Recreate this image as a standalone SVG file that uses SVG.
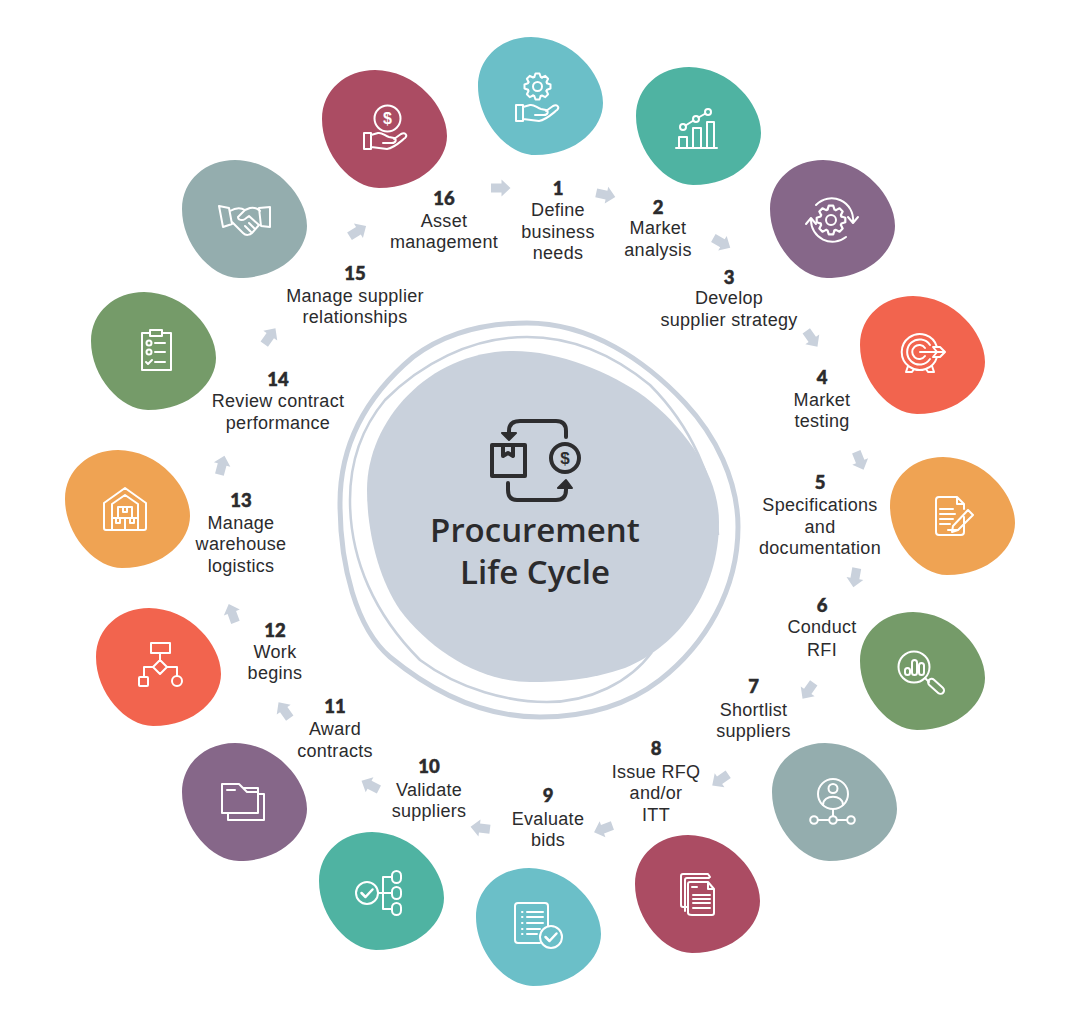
<svg xmlns="http://www.w3.org/2000/svg" width="1080" height="1030" viewBox="0 0 1080 1030">
<style>
text{font-family:"Open Sans","Noto Sans",sans-serif;fill:#2b2b2d;text-anchor:middle}
.l{font-family:"Liberation Sans",Arial,sans-serif;font-size:18px;font-weight:400;letter-spacing:.3px}
.n{font-family:Lato,"Open Sans",sans-serif;font-size:18.5px;font-weight:900;stroke:#2b2b2d;stroke-width:.5px;letter-spacing:0}
.t{font-size:33px;font-weight:600}
.i{fill:none;stroke:#fff;stroke-width:2;stroke-linejoin:round;stroke-linecap:round}
.d{fill:none;stroke:#2d2d2f;stroke-width:4;stroke-linejoin:round;stroke-linecap:round}
.a{fill:#c9d1dc}
.s{font-family:"Liberation Sans",sans-serif;font-weight:700;fill:#fff;stroke:none}
</style>
<defs>
<path id="blob" d="M53 0C72 0 92 9 105 23C116 34 125 50 125 66C125 90 100 118 57 118C30 118 0 85 0 49C0 20 24 0 53 0Z"/>
<path id="arrow" d="M-10-4.500H0.500V-8.500L9.500 0L0.500 8.500V4.500H-10Z"/>
<g id="tooth"><path d="M-3.200-9.500L-2-13H2L3.200-9.500L4.450-8.960"/></g>
<g id="gear"><use href="#tooth"/><use href="#tooth" transform="rotate(45)"/><use href="#tooth" transform="rotate(90)"/><use href="#tooth" transform="rotate(135)"/><use href="#tooth" transform="rotate(180)"/><use href="#tooth" transform="rotate(225)"/><use href="#tooth" transform="rotate(270)"/><use href="#tooth" transform="rotate(315)"/></g>
<g id="hand"><path d="M516 105H523V121H516ZM523 107L530 105C534 104 537 108 541 109L546 110C549 111 548 115 544 115L535 115M546 111L553 106C557 104 560 107 557 110C552 114 546 120 539 121L523 119"/></g>
</defs>
<g id="connectors">
<use href="#arrow" class="a" transform="translate(501 188)"/>
<use href="#arrow" class="a" transform="translate(606 195) rotate(12)"/>
<use href="#arrow" class="a" transform="translate(722 243) rotate(30)"/>
<use href="#arrow" class="a" transform="translate(812 339) rotate(55)"/>
<use href="#arrow" class="a" transform="translate(860 461) rotate(68)"/>
<use href="#arrow" class="a" transform="translate(855 578) rotate(100)"/>
<use href="#arrow" class="a" transform="translate(808 691) rotate(125)"/>
<use href="#arrow" class="a" transform="translate(720 780) rotate(145)"/>
<use href="#arrow" class="a" transform="translate(603 829) rotate(160)"/>
<use href="#arrow" class="a" transform="translate(480 828) rotate(187)"/>
<use href="#arrow" class="a" transform="translate(370 785) rotate(207)"/>
<use href="#arrow" class="a" transform="translate(284 710) rotate(235)"/>
<use href="#arrow" class="a" transform="translate(232 613) rotate(250)"/>
<use href="#arrow" class="a" transform="translate(222 465) rotate(285)"/>
<use href="#arrow" class="a" transform="translate(270 336) rotate(305)"/>
<use href="#arrow" class="a" transform="translate(358 231) rotate(328)"/>
</g>
<g id="center">
<path d="M527 323C590 323 645 360 685 403C715 435 738 480 738 527C738 590 705 645 660 680C625 707 585 717 540 717C480 717 430 690 390 657C356 628 340 565 340 503C340 440 370 393 413 357C445 333 485 323 527 323Z" fill="none" stroke="#c9d1dc" stroke-width="5"/>
<path d="M718 535C716 480 690 425 650 385C610 352 570 337 527 337C470 337 420 365 385 400C360 430 350 465 350 500C350 560 375 615 420 660C460 690 510 702 547 702C590 702 630 682 652 652" fill="none" stroke="#c9d1dc" stroke-width="2.500"/>
<path d="M513 351C560 351 610 372 645 397C685 428 719 475 719 522C719 590 680 645 625 668C590 680 560 682 530 682C480 682 430 650 400 610C378 578 367 530 367 490C367 420 430 351 513 351Z" fill="#c9d1dc"/>
<path class="d" d="M492 445H525V476H492ZM503 445V456L508 453L513 456V445M566 437V431Q566 421 556 421H520Q509 421 509 431V434"/>
<path class="d" d="M508 483V490Q508 500 517 500H556Q566 500 566 490V487"/>
<circle class="d" cx="565" cy="458" r="14"/>
<path d="M502 433H516L509 440ZM558 488H572L566 480Z" fill="#2d2d2f" stroke="#2d2d2f" stroke-width="2" stroke-linejoin="round"/>
<text x="565" y="464" font-size="17" style="font-family:'Liberation Sans',sans-serif;font-weight:700;fill:#2d2d2f">$</text>
<text class="t"><tspan x="535" y="542">Procurement</tspan><tspan x="535" y="584">Life Cycle</tspan></text>
</g>
<g id="node1">
<use href="#blob" x="478" y="37" fill="#6bbfc8"/>
<g class="i"><use href="#gear" transform="translate(537.500 86.500)"/><circle cx="537.500" cy="86.500" r="4.500"/><use href="#hand"/></g>
<text class="l"><tspan class="n" x="558" y="195">1</tspan><tspan x="558" y="216">Define</tspan><tspan x="558" y="238">business</tspan><tspan x="558" y="259">needs</tspan></text>
</g>
<g id="node2">
<use href="#blob" x="636" y="67" fill="#4fb3a2"/>
<g class="i"><path d="M676 148H717M679 148V137H687V148M693 148V128H701V148M707 148V122H714V148M685.500 125.500L693.500 120.500M698.500 117.500L705.500 113.500"/><circle cx="683" cy="127" r="3"/><circle cx="696" cy="119" r="3"/><circle cx="708" cy="112" r="3"/></g>
<text class="l"><tspan class="n" x="658" y="214">2</tspan><tspan x="658" y="234">Market</tspan><tspan x="658" y="256">analysis</tspan></text>
</g>
<g id="node3">
<use href="#blob" x="770" y="160" fill="#866789"/>
<g class="i"><use href="#gear" transform="translate(831 220) scale(1.100)"/><circle cx="831" cy="220" r="5"/><path d="M816 205A21.500 21.500 0 0 1 853 222M846 237A21.500 21.500 0 0 1 811 220M848 217L853 223L858 217M806 224L811 218L816 224"/></g>
<text class="l"><tspan class="n" x="729" y="284">3</tspan><tspan x="729" y="304">Develop</tspan><tspan x="729" y="326">supplier strategy</tspan></text>
</g>
<g id="node4">
<use href="#blob" x="860" y="296" fill="#f2644e"/>
<g class="i"><path d="M937 347A18 18 0 1 0 937 357M930 345A12.500 12.500 0 1 0 930 359M925 348A7 7 0 1 0 925 356M920 352H944M933 347H940L945 352L940 357H933L937 352ZM908 366L906 372H912L914 369M932 366L934 372H928L926 369"/></g>
<text class="l"><tspan class="n" x="822" y="384">4</tspan><tspan x="822" y="406">Market</tspan><tspan x="822" y="427">testing</tspan></text>
</g>
<g id="node5">
<use href="#blob" x="890" y="457" fill="#efa353"/>
<g class="i"><path d="M964 517V532Q964 535 961 535H939Q936 535 936 532V500Q936 497 939 497H957L964 504V509M957 497V504H964M940 509H953M940 514H955M940 519H953M940 524H950M948 530H957M968 510L973 515L958 530L952 532L953 526Z"/></g>
<text class="l"><tspan class="n" x="820" y="489">5</tspan><tspan x="820" y="511">Specifications</tspan><tspan x="820" y="533">and</tspan><tspan x="820" y="554">documentation</tspan></text>
</g>
<g id="node6">
<use href="#blob" x="860" y="612" fill="#759b69"/>
<g class="i"><circle cx="914" cy="667" r="15.500"/><rect x="905" y="668" width="5" height="7" rx="2.500"/><rect x="912" y="660" width="5" height="15" rx="2.500"/><rect x="919" y="663" width="5" height="12" rx="2.500"/><path d="M925 678L929 682"/><rect x="0" y="-3.500" width="19" height="7" rx="3.500" transform="translate(929 680) rotate(42)"/></g>
<text class="l"><tspan class="n" x="822" y="612">6</tspan><tspan x="822" y="633">Conduct</tspan><tspan x="822" y="656">RFI</tspan></text>
</g>
<g id="node7">
<use href="#blob" x="772" y="743" fill="#94adae"/>
<g class="i"><circle cx="833" cy="794" r="15"/><circle cx="833" cy="788.500" r="4.500"/><path d="M823 805C823 794 843 794 843 805M833 809V816M818 820H829M837 820H847"/><circle cx="814" cy="820" r="3.800"/><circle cx="833" cy="820" r="3.800"/><circle cx="851" cy="820" r="3.800"/></g>
<text class="l"><tspan class="n" x="753.500" y="693">7</tspan><tspan x="753.500" y="716">Shortlist</tspan><tspan x="753.500" y="737">suppliers</tspan></text>
</g>
<g id="node8">
<use href="#blob" x="635" y="835" fill="#ab4c63"/>
<g class="i"><path d="M688 907H683Q681 907 681 905V876Q681 874 683 874H708L710 877M685 911V880Q685 878 687 878H709M692 915Q688 915 688 913V884Q688 882 690 882H708L714 889V913Q714 915 712 915ZM708 882V889H714M692 887H697M693 895H710M693 899H710M693 903H710M693 908H710"/></g>
<text class="l"><tspan class="n" x="656" y="755">8</tspan><tspan x="656" y="778">Issue RFQ</tspan><tspan x="656" y="799">and/or</tspan><tspan x="656" y="821">ITT</tspan></text>
</g>
<g id="node9">
<use href="#blob" x="476" y="868" fill="#6bbfc8"/>
<g class="i"><path d="M540 943H518Q515 943 515 940V906Q515 903 518 903H545Q548 903 548 906V926M522 912H522.500M522 917H522.500M522 923H522.500M522 929H522.500M522 934H522.500M527 912H543M527 917H543M527 923H543M527 929H540M527 934H537"/><circle cx="551" cy="937" r="11"/><path d="M545.500 937L549.500 941L556.500 933.500" stroke-width="2.500"/></g>
<text class="l"><tspan class="n" x="548" y="802">9</tspan><tspan x="548" y="825">Evaluate</tspan><tspan x="548" y="846">bids</tspan></text>
</g>
<g id="node10">
<use href="#blob" x="319" y="832" fill="#4fb3a2"/>
<g class="i"><circle cx="367" cy="893" r="11"/><path d="M361.500 893L365.500 897L372.500 889.500" stroke-width="2.500"/><path d="M378 893H392M383 877V909M383 877H392M383 909H392"/><rect x="392" y="871" width="9" height="12" rx="4.500"/><rect x="392" y="887" width="9" height="12" rx="4.500"/><rect x="392" y="903" width="9" height="12" rx="4.500"/></g>
<text class="l"><tspan class="n" x="429" y="773">10</tspan><tspan x="429" y="796">Validate</tspan><tspan x="429" y="817">suppliers</tspan></text>
</g>
<g id="node11">
<use href="#blob" x="182" y="743" fill="#866789"/>
<g class="i"><path d="M222 813V784H239L247 792H258V813ZM227 790H235M243 788H258V792M258 794H264V820H228V813"/></g>
<text class="l"><tspan class="n" x="335" y="713">11</tspan><tspan x="335" y="735">Award</tspan><tspan x="335" y="757">contracts</tspan></text>
</g>
<g id="node12">
<use href="#blob" x="96" y="608" fill="#f2644e"/>
<g class="i"><path d="M151 643H170V653H151ZM160 653V660M160 660L167 667L160 674L153 667ZM153 667H144V677M167 667H177V676"/><rect x="139" y="677" width="9" height="9" rx="1"/><circle cx="177" cy="681" r="5"/></g>
<text class="l"><tspan class="n" x="275" y="637">12</tspan><tspan x="275" y="658">Work</tspan><tspan x="275" y="679">begins</tspan></text>
</g>
<g id="node13">
<use href="#blob" x="65" y="450" fill="#efa353"/>
<g class="i"><path d="M106 530H144Q146 530 146 528V503L125 488L104 503V528Q104 530 106 530ZM112 530V504L125 495L138 504V530M118 518V507H132V518M112 518H138M125 518V530M123 507V512H127V507M116 518V523H120V518M130 518V523H134V518"/></g>
<text class="l"><tspan class="n" x="241" y="507">13</tspan><tspan x="241" y="529">Manage</tspan><tspan x="241" y="550">warehouse</tspan><tspan x="241" y="572">logistics</tspan></text>
</g>
<g id="node14">
<use href="#blob" x="91" y="292" fill="#759b69"/>
<g class="i"><path d="M150 333H142V370H171V333H162M150 330H162V336H150Z"/><circle cx="149" cy="343" r="2.500"/><circle cx="149" cy="352" r="2.500"/><path d="M146 362L148 364L152 360M155 343H165M155 352H165M155 362H165"/></g>
<text class="l"><tspan class="n" x="278" y="386">14</tspan><tspan x="278" y="407">Review contract</tspan><tspan x="278" y="429">performance</tspan></text>
</g>
<g id="node15">
<use href="#blob" x="182" y="160" fill="#94adae"/>
<g class="i"><path d="M219 206L229 208L232 224L223 227ZM270 207V227L261 226L259 208ZM230 211C235 208 240 207 245 210L250 208C254 207 257 208 260 211M232 222L243 233C246 236 250 235 252 233L259 225M245 210L238 217C238 220 242 221 245 219L249 216L259 225M255 229L249 223M251 232L245 226"/></g>
<text class="l"><tspan class="n" x="355" y="280">15</tspan><tspan x="355" y="302">Manage supplier</tspan><tspan x="355" y="323">relationships</tspan></text>
</g>
<g id="node16">
<use href="#blob" x="322" y="70" fill="#ab4c63"/>
<g class="i"><circle cx="387.500" cy="118.500" r="13"/><use href="#hand" transform="translate(-152 28)"/></g>
<text class="s" x="387.500" y="124" font-size="16">$</text>
<text class="l"><tspan class="n" x="444" y="205">16</tspan><tspan x="444" y="227">Asset</tspan><tspan x="444" y="248">management</tspan></text>
</g>
</svg>
